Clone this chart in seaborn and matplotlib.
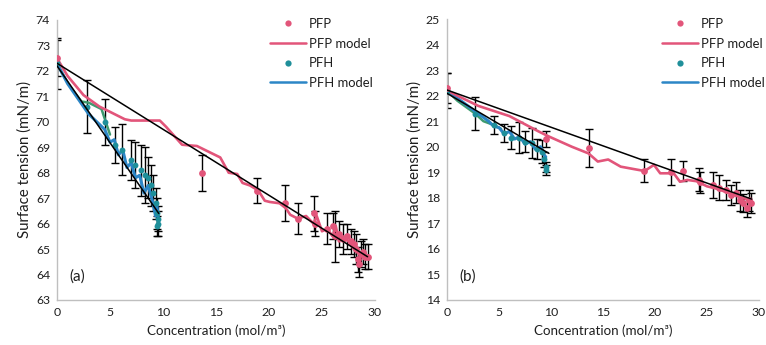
import numpy as np
import pandas as pd
import matplotlib
matplotlib.use("Agg")
import matplotlib.pyplot as plt
from matplotlib.lines import Line2D
import seaborn as sns

# ---------------- data: panel (a) ----------------
pfp_a_x = [0, 13.7, 18.9, 21.5, 22.7, 24.2, 24.3, 25.5, 26.0, 26.2, 26.6, 27.0, 27.4, 27.7,
           28.0, 28.2, 28.4, 28.5, 28.7, 28.9, 29.1, 29.3]
pfp_a_y = [72.5, 68.0, 67.3, 66.8, 66.2, 66.4, 66.0, 65.8, 65.9, 65.5, 65.6, 65.4, 65.5, 65.3,
           65.2, 65.0, 64.6, 64.4, 64.8, 64.9, 64.7, 64.7]
pfp_a_err = [0.7, 0.7, 0.5, 0.7, 0.6, 0.7, 0.5, 0.6, 0.5, 1.0, 0.5, 0.6, 0.5, 0.5,
             0.5, 0.6, 0.5, 0.5, 0.5, 0.5, 0.5, 0.5]

pfh_a_x = [0, 2.8, 4.5, 5.5, 6.1, 7.0, 7.4, 7.9, 8.3, 8.6, 8.9, 9.1, 9.3, 9.4, 9.5, 9.5, 9.4]
pfh_a_y = [72.3, 70.6, 70.0, 69.1, 68.9, 68.5, 68.3, 68.1, 67.9, 67.8, 67.5, 67.2, 66.8,
           66.4, 66.2, 66.0, 65.9]
pfh_a_err = [1.0, 1.05, 0.9, 0.7, 1.0, 0.8, 0.9, 1.0, 1.1, 0.8, 0.8, 0.7, 0.6, 0.6, 0.5,
             0.5, 0.4]

pfp_model_a_x = [0, 1, 2.5, 4, 6.4, 7, 9.7, 10.3, 11.8, 13.2, 15.4, 16.2, 17, 17.5, 18.2,
                 19, 19.6, 20.1, 21, 21.6, 22, 22.7, 23.5, 24.2, 24.5, 25, 25.5, 26, 26.3,
                 26.6, 27, 27.5, 28, 28.5, 29, 29.3]
pfp_model_a_y = [72.5, 71.8, 71.05, 70.6, 70.1, 70.05, 70.05, 69.8, 69.1, 69.05, 68.6, 68.0,
                 67.95, 67.6, 67.5, 67.3, 66.9, 66.85, 66.8, 66.6, 66.35, 66.2, 66.3, 66.0,
                 66.3, 65.7, 65.8, 65.5, 65.9, 65.3, 65.5, 65.3, 65.0, 64.8, 64.9, 64.7]

pfh_model_a_x = [0, 0.5, 1, 2, 3, 4, 4.5, 5, 5.4, 5.8, 6.2, 6.6, 7.0, 7.4, 7.8, 8.2, 8.6,
                 9.0, 9.3, 9.4, 9.6]
pfh_model_a_y = [72.3, 71.9, 71.5, 70.9, 70.3, 69.9, 69.7, 69.2, 69.3, 68.7, 68.9, 68.2,
                 68.4, 67.8, 67.9, 67.2, 67.5, 66.9, 66.3, 66.8, 66.1]

pfh_early_a_x = [0, 0.5, 1.2, 2.3, 3.0, 4.2, 4.6, 5.0]
pfh_early_a_y = [72.3, 71.9, 71.4, 70.8, 70.75, 70.5, 70.0, 69.5]

pfp_fit_a_x = [0, 29.3]
pfp_fit_a_y = [72.3, 64.7]
pfh_fit_a_x = [0, 9.6]
pfh_fit_a_y = [72.2, 66.4]

# ---------------- data: panel (b) ----------------
pfp_b_x = [0, 9.5, 13.7, 18.9, 21.5, 22.7, 24.2, 24.3, 25.6, 26.2, 26.8, 27.3, 27.8, 28.2,
           28.5, 28.8, 29.0, 29.2]
pfp_b_y = [22.3, 20.3, 19.95, 19.05, 19.0, 19.05, 18.7, 18.6, 18.5, 18.4, 18.3, 18.1, 18.2,
           17.9, 17.8, 17.6, 17.9, 17.8]
pfp_b_err = [0.6, 0.3, 0.75, 0.45, 0.5, 0.4, 0.45, 0.4, 0.5, 0.5, 0.4, 0.4, 0.4, 0.4, 0.35,
             0.35, 0.4, 0.4]

pfh_b_x = [0, 2.7, 4.5, 5.5, 6.2, 6.9, 7.5, 8.2, 8.7, 9.1, 9.3, 9.5, 9.5]
pfh_b_y = [22.2, 21.3, 20.85, 20.55, 20.35, 20.35, 20.2, 20.15, 19.9, 19.8, 19.5, 19.2, 19.1]
pfh_b_err = [0.7, 0.65, 0.35, 0.35, 0.45, 0.6, 0.4, 0.6, 0.4, 0.45, 0.3, 0.2, 0.2]

pfp_model_b_x = [0, 3, 6, 8.8, 9.8, 12, 13.6, 14.5, 15.5, 16.7, 18.3, 19, 19.9, 20.5, 21.8,
                 22.4, 23.1, 24, 25, 26, 27, 28, 29.2]
pfp_model_b_y = [22.2, 21.6, 21.2, 20.6, 20.4, 20.0, 19.74, 19.42, 19.5, 19.22, 19.1, 19.05,
                 19.29, 18.96, 18.96, 18.63, 18.7, 18.65, 18.45, 18.35, 18.2, 18.05, 17.9]

pfh_model_b_x = [0, 1, 2, 3, 4, 4.5, 5, 5.5, 6, 6.5, 7, 7.5, 8, 8.5, 9, 9.3, 9.5]
pfh_model_b_y = [22.2, 21.9, 21.6, 21.3, 21.0, 20.8, 20.75, 20.5, 20.6, 20.3, 20.4, 20.1,
                 20.2, 19.9, 20.0, 19.7, 19.6]

pfh_early_b_x = [0, 1, 2.7, 3.5, 4.5, 5.2]
pfh_early_b_y = [22.2, 21.8, 21.3, 21.0, 20.85, 20.7]

pfp_fit_b_x = [0, 29.3]
pfp_fit_b_y = [22.22, 17.95]
pfh_fit_b_x = [0, 9.8]
pfh_fit_b_y = [22.09, 19.74]

x_ticks = [0, 5, 10, 15, 20, 25, 30]
y_ticks_a = list(range(63, 75))
y_ticks_b = list(range(14, 26))

PINK = "#E2557A"
TEAL = "#1F8F9A"
BLUE = "#2C86C6"
GREEN = "#3E9B70"
SPINE = "#BFBFBF"
TEXT = "#1E1E1E"

sns.set_theme(style="white")
plt.rcParams["font.family"] = ["Lato", "DejaVu Sans"]

fig = plt.figure(figsize=(7.66, 3.45), dpi=100)
ax_a = fig.add_axes([57 / 766, 45 / 345, 318 / 766, 280 / 345])
ax_b = fig.add_axes([447 / 766, 45 / 345, 312 / 766, 281 / 345])


def draw_panel(ax, pfp, pfh, pfp_model, pfh_model, early, fits, yticks, tag):
    (px, py, pe), (hx, hy, he) = pfp, pfh
    ax.errorbar(px, py, yerr=pe, fmt="none", ecolor="black", elinewidth=1.0,
                capsize=2.8, capthick=1.0, zorder=2)
    ax.errorbar(hx, hy, yerr=he, fmt="none", ecolor="black", elinewidth=1.0,
                capsize=2.8, capthick=1.0, zorder=2)
    sns.lineplot(x=early[0], y=early[1], ax=ax, color=GREEN, lw=1.8,
                 sort=False, estimator=None, zorder=3)
    sns.lineplot(x=pfh_model[0], y=pfh_model[1], ax=ax, color=BLUE, lw=2.2,
                 sort=False, estimator=None, zorder=4)
    sns.lineplot(x=pfp_model[0], y=pfp_model[1], ax=ax, color=PINK, lw=1.9,
                 sort=False, estimator=None, zorder=4)
    sns.scatterplot(x=hx, y=hy, ax=ax, color=TEAL, s=18, linewidth=0, zorder=5)
    sns.scatterplot(x=px, y=py, ax=ax, color=PINK, s=24, linewidth=0, zorder=5)
    for fx, fy in fits:
        sns.lineplot(x=fx, y=fy, ax=ax, color="black", lw=1.1,
                     sort=False, estimator=None, zorder=6)

    ax.set_xlim(0, 30)
    ax.set_ylim(yticks[0], yticks[-1])
    ax.set_xticks(x_ticks)
    ax.set_yticks(yticks)
    ax.tick_params(axis="both", length=0, labelsize=8.8, pad=5, colors=TEXT)
    for side in ("top", "right"):
        ax.spines[side].set_visible(False)
    for side in ("left", "bottom"):
        ax.spines[side].set_color(SPINE)
        ax.spines[side].set_linewidth(1.0)
    ax.set_xlabel("Concentration (mol/m³)", fontsize=9.6, color=TEXT, labelpad=5)
    ax.set_ylabel("Surface tension (mN/m)", fontsize=10.8, color=TEXT, labelpad=3)
    ax.text(0.04, 0.082, tag, transform=ax.transAxes, fontsize=11, color=TEXT,
            va="center", ha="left")


draw_panel(ax_a, (pfp_a_x, pfp_a_y, pfp_a_err), (pfh_a_x, pfh_a_y, pfh_a_err),
           (pfp_model_a_x, pfp_model_a_y), (pfh_model_a_x, pfh_model_a_y),
           (pfh_early_a_x, pfh_early_a_y),
           [(pfp_fit_a_x, pfp_fit_a_y), (pfh_fit_a_x, pfh_fit_a_y)], y_ticks_a, "(a)")
draw_panel(ax_b, (pfp_b_x, pfp_b_y, pfp_b_err), (pfh_b_x, pfh_b_y, pfh_b_err),
           (pfp_model_b_x, pfp_model_b_y), (pfh_model_b_x, pfh_model_b_y),
           (pfh_early_b_x, pfh_early_b_y),
           [(pfp_fit_b_x, pfp_fit_b_y), (pfh_fit_b_x, pfh_fit_b_y)], y_ticks_b, "(b)")

handles = [
    Line2D([], [], ls="none", marker="o", ms=4.5, color=PINK, mec="none"),
    Line2D([], [], color=PINK, lw=1.8),
    Line2D([], [], ls="none", marker="o", ms=4.5, color=TEAL, mec="none"),
    Line2D([], [], color=BLUE, lw=1.8),
]
labels = ["PFP", "PFP model", "PFH", "PFH model"]
for x0 in (270 / 766, 662 / 766):
    fig.legend(handles, labels, loc="upper left", bbox_to_anchor=(x0, 1 - 18 / 345),
               bbox_transform=fig.transFigure, frameon=False, fontsize=9.4,
               handlelength=2.75, handletextpad=0.2, labelspacing=0.58,
               borderpad=0, borderaxespad=0, labelcolor=TEXT)

fig.savefig("out.png", dpi=100)
